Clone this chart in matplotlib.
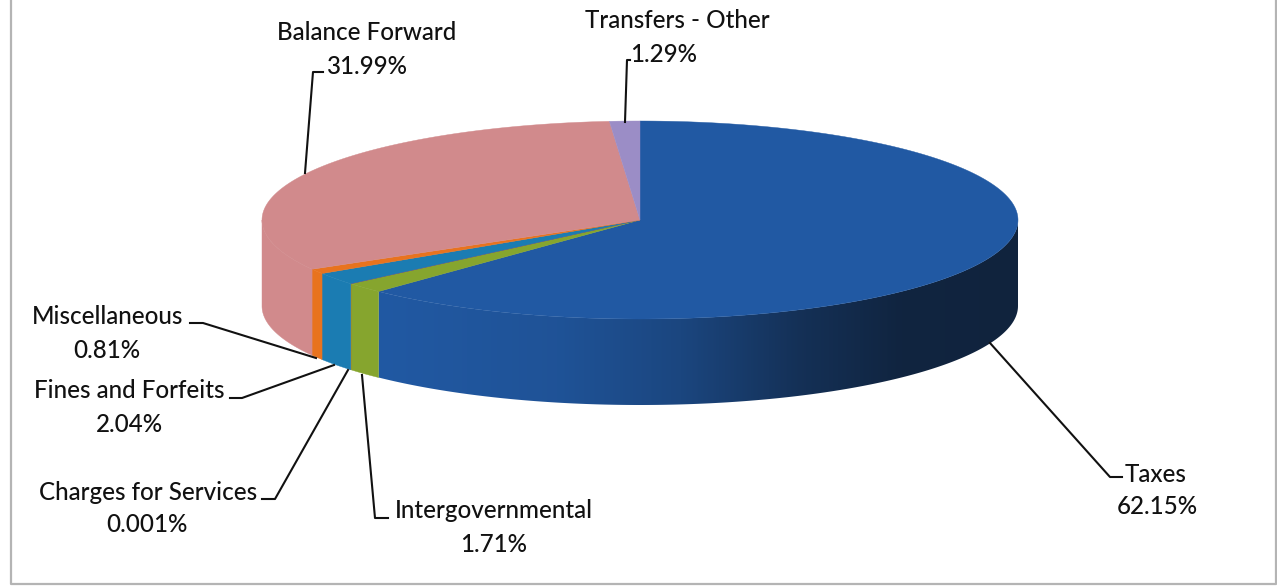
import matplotlib
matplotlib.use("Agg")
import matplotlib.pyplot as plt
from matplotlib.colors import to_rgb
from matplotlib.patches import Polygon
import numpy as np

names = ["Taxes", "Intergovernmental", "Charges for Services", "Fines and Forfeits",
         "Miscellaneous", "Balance Forward", "Transfers - Other"]
shares = [62.15, 1.71, 0.001, 2.04, 0.81, 31.99, 1.29]
colors = ["#2159a3", "#86a52e", "#c9503c", "#1b7cb2", "#e8731e", "#d18a8c", "#9b8dc6"]

# pie geometry in figure pixels
cx, cy = 640, 220
rx, ry = 378, 99
depth = 86

# label anchor (name x, name y, value x, value y) and leader line for each slice
label_pos = [(1156, 475, 1157, 507), (494, 511, 494, 544), (148, 492, 147, 525),
             (129, 391, 129, 424), (108, 317, 107, 350), (367, 33, 367, 66),
             (677, 20, 664, 54)]
leaders = [
    [(990, 343), (1110, 477), (1122, 477)],
    [(362, 375), (375, 518), (388, 518)],
    [(348, 370), (275, 499), (262, 499)],
    [(334, 365), (242, 398), (230, 398)],
    [(316, 358), (203, 323), (190, 323)],
    [(305, 173), (313, 72), (323, 72)],
    [(625, 122), (627, 60), (630, 60)],
]

plt.rcParams["font.family"] = ["Lato", "DejaVu Sans"]

fig = plt.figure(figsize=(12.77, 5.86), dpi=100)
ax = fig.add_axes([0, 0, 1, 1])
ax.set_xlim(0, 1277)
ax.set_ylim(586, 0)
ax.axis("off")


def rim(t, drop=0):
    return np.column_stack((cx + rx * np.sin(t), cy - ry * np.cos(t) + drop))


def taxes_shade(x):
    # the large slice darkens toward the right side of its wall
    stops = [378, 560, 680, 800, 900, 1018]
    light = np.array(to_rgb(colors[0]))
    dark = np.array(to_rgb("#10233d"))
    mix = np.interp(x, stops, [0, 0.12, 0.35, 0.75, 0.97, 1])
    return light + (dark - light) * mix[..., None]


edges = np.cumsum([0] + shares) / sum(shares) * 2 * np.pi

# outer wall, only the front half of the ellipse shows
for i in range(len(shares)):
    a = max(edges[i], np.pi / 2)
    b = min(edges[i + 1], 3 * np.pi / 2)
    if b <= a:
        continue
    ts = np.linspace(a, b, 200)
    pts = np.vstack((rim(ts), rim(ts, depth)[::-1]))
    if i == 0:
        wall = Polygon(pts, closed=True, facecolor="none", edgecolor="none")
        ax.add_patch(wall)
        xs = np.arange(cx - rx, cx + rx + 1)
        img = ax.imshow(taxes_shade(xs)[None, :, :], aspect="auto", interpolation="bilinear",
                        extent=(cx - rx, cx + rx, cy + ry + depth, cy - ry))
        img.set_clip_path(wall)
    else:
        ax.add_patch(Polygon(pts, closed=True, facecolor=colors[i], edgecolor=colors[i], lw=0.3))

# imshow resets the limits
ax.set_xlim(0, 1277)
ax.set_ylim(586, 0)

# top face
for i in range(len(shares)):
    ts = np.linspace(edges[i], edges[i + 1], 200)
    pts = np.vstack(([(cx, cy)], rim(ts)))
    ax.add_patch(Polygon(pts, closed=True, facecolor=colors[i], edgecolor=colors[i], lw=0.3, zorder=3))

for name, value, pos, line in zip(names, shares, label_pos, leaders):
    ax.plot(*zip(*line), color="#111111", lw=1.5, solid_joinstyle="round", zorder=4)
    ax.text(pos[0], pos[1], name, ha="center", va="center", fontsize=17.4, color="#111111",
            fontweight="medium")
    ax.text(pos[2], pos[3], f"{value}%", ha="center", va="center", fontsize=17.4, color="#111111",
            fontweight="medium")

# chart frame, open along the top
ax.plot([11, 11, 1276, 1276], [0, 584, 584, 0], color="#b4b4b4", lw=1.6)

fig.savefig("out.png", dpi=100)
